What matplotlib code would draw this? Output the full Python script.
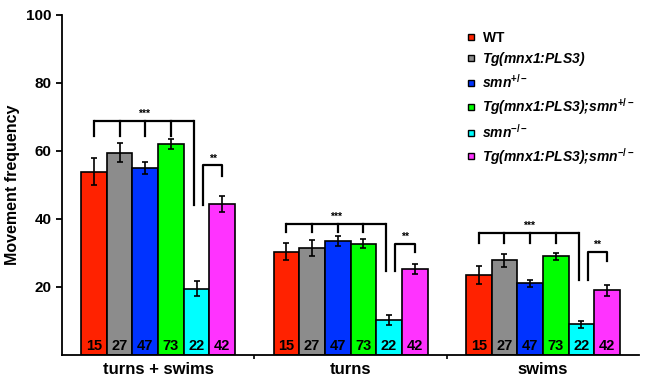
import numpy as np
import matplotlib
matplotlib.use('Agg')
import matplotlib.pyplot as plt
from matplotlib.lines import Line2D

plt.rcParams['font.family'] = 'Liberation Sans'
plt.rcParams['font.weight'] = 'bold'
plt.rcParams['mathtext.fontset'] = 'custom'
plt.rcParams['mathtext.rm'] = 'Liberation Sans:bold'
plt.rcParams['mathtext.it'] = 'Liberation Sans:bold:italic'
plt.rcParams['mathtext.bf'] = 'Liberation Sans:bold'

# data
groups = ['turns + swims', 'turns', 'swims']
genotypes = [r'WT$^{\ }$', r'Tg(mnx1:PLS3)$^{\ }$', 'smn$^{+/-}$', 'Tg(mnx1:PLS3);smn$^{+/-}$',
             'smn$^{-/-}$', 'Tg(mnx1:PLS3);smn$^{-/-}$']
colors = ['#ff2200', '#8c8c8c', '#0033ff', '#00ff00', '#00ffff', '#ff33ff']
n_fish = [15, 27, 47, 73, 22, 42]

means = [[53.9, 59.5, 54.9, 61.9, 19.4, 44.4],
         [30.4, 31.4, 33.6, 32.7, 10.2, 25.3],
         [23.4, 27.8, 21.1, 29.0, 9.0, 19.0]]
sems = [[4.0, 2.7, 1.8, 1.5, 2.2, 2.3],
        [2.6, 2.3, 1.5, 1.3, 1.4, 1.5],
        [2.6, 2.0, 1.0, 1.0, 1.0, 1.6]]

# significance brackets: (top, short drop, low end) per group
br3_top = [68.7, 38.6, 35.9]
br3_drop = [4.4, 2.4, 3.0]
br_low = [44.2, 24.6, 21.9]
br2_top = [55.7, 32.7, 30.2]
br2_drop = [3.2, 2.5, 2.7]

fig = plt.figure(figsize=(6.45, 3.8), dpi=100)
ax = fig.add_axes([0.096, 0.066, 0.895, 0.895])

w = 0.8 / 6
for g in range(len(groups)):
    for i in range(6):
        x = g + (i - 2.5) * w
        ax.bar(x, means[g][i], width=w, color=colors[i], edgecolor='black',
               linewidth=1.2, zorder=2)
        ax.errorbar(x, means[g][i], yerr=sems[g][i], fmt='none', ecolor='black',
                    elinewidth=1.2, capsize=2.2, capthick=1.2, zorder=3)
        ax.text(x, 0.7, str(n_fish[i]), ha='center', va='bottom', fontsize=10.5,
                fontweight='bold', zorder=4)

    # *** bracket
    xs = [g + (i - 2.5) * w for i in range(4)]
    xr = g + (4 - 2.5) * w - 0.1 * w
    top = br3_top[g]
    ax.plot([xs[0], xr], [top, top], color='black', lw=1.6, solid_capstyle='butt', zorder=3)
    for x in xs:
        ax.plot([x, x], [top, top - br3_drop[g]], color='black', lw=1.6, zorder=3)
    ax.plot([xr, xr], [top, br_low[g]], color='black', lw=1.6, zorder=3)
    ax.text((xs[0] + xr) / 2, top + 0.6, '***', ha='center', va='bottom', fontsize=7.5)

    # ** bracket
    xl = g + (4 - 2.5) * w + 0.25 * w
    xm = g + (5 - 2.5) * w
    top2 = br2_top[g]
    ax.plot([xl, xl, xm, xm], [br_low[g], top2, top2, top2 - br2_drop[g]],
            color='black', lw=1.6, zorder=3)
    ax.text((xl + xm) / 2, top2 + 0.6, '**', ha='center', va='bottom', fontsize=7.5)

ax.set_xlim(-0.5, 2.5)
ax.set_ylim(0, 100)
ax.set_yticks([20, 40, 60, 80, 100])
ax.set_xticks(range(len(groups)))
ax.set_xticklabels(groups, fontsize=12)
ax.set_xticks([0.5, 1.5], minor=True)
ax.tick_params(axis='x', which='major', length=0, pad=5)
ax.tick_params(axis='x', which='minor', length=3, width=1.2)
ax.tick_params(axis='y', labelsize=11, width=1.3, length=4)
ax.set_ylabel('Movement frequency', fontsize=11.5, fontweight='bold')
ax.spines['top'].set_visible(False)
ax.spines['right'].set_visible(False)
ax.spines['left'].set_linewidth(1.3)
ax.spines['bottom'].set_linewidth(1.3)

handles = [Line2D([], [], marker='s', linestyle='none', markersize=5,
                  markerfacecolor=c, markeredgecolor='black', markeredgewidth=1.0)
           for c in colors]
leg = ax.legend(handles, genotypes, loc='upper left', bbox_to_anchor=(0.69, 0.97),
                frameon=False, fontsize=10, handlelength=0.8, handletextpad=0.35,
                labelspacing=0.38, borderaxespad=0)
for t in leg.get_texts()[1:]:
    t.set_fontstyle('italic')

plt.savefig('out.png', dpi=100)
